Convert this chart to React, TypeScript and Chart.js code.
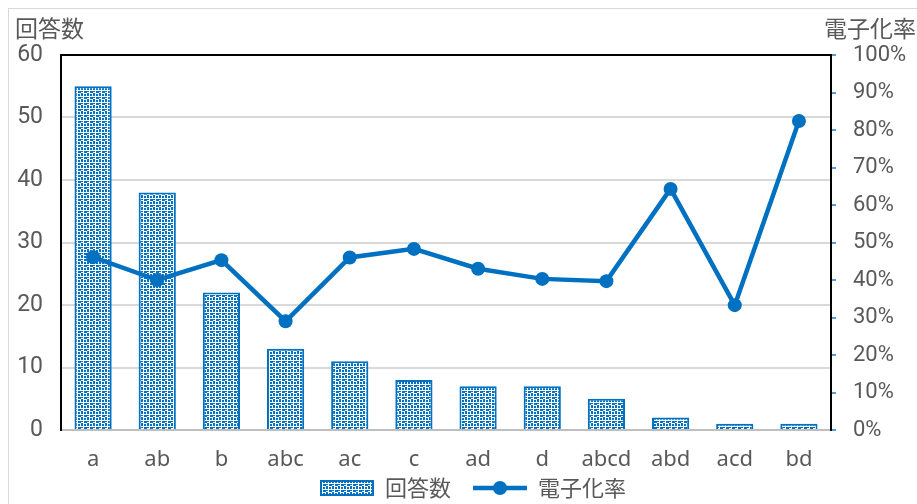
import React, { useEffect, useRef } from 'react';
import { Chart, registerables } from 'chart.js';

Chart.register(...registerables);

const categories = ['a', 'ab', 'b', 'abc', 'ac', 'c', 'ad', 'd', 'abcd', 'abd', 'acd', 'bd'];
const responseCounts = [55, 38, 22, 13, 11, 8, 7, 7, 5, 2, 1, 1];
const digitizationRates = [46.1, 40, 45.3, 29, 46, 48.3, 43, 40.3, 39.7, 64.3, 33.3, 82.4];
const leftTicks = [0, 10, 20, 30, 40, 50, 60];
const rightTicks = [0, 10, 20, 30, 40, 50, 60, 70, 80, 90, 100];
const seriesNames = ['回答数', '電子化率'];
const axisTitles = ['回答数', '電子化率'];

const BLUE = '#0070C0';
const TEXT = '#595959';
const FONT = "'Noto Sans CJK JP', 'Noto Sans', sans-serif";
const LATIN = "'Noto Sans', sans-serif";
const NUM = "Roboto, 'Liberation Sans', sans-serif";
const LEG_OFF = 20;

function makePatternTile(): HTMLCanvasElement {
  const c = document.createElement('canvas');
  c.width = 6;
  c.height = 6;
  const g = c.getContext('2d')!;
  g.fillStyle = '#ffffff';
  g.fillRect(0, 0, 6, 6);
  g.fillStyle = BLUE;
  g.fillRect(0, 0, 2, 3);
  g.fillRect(0, 4, 2, 1);
  g.fillRect(3, 1, 2, 2);
  g.fillRect(3, 4, 3, 2);
  return c;
}

function makeBarLegend(pattern: CanvasPattern): HTMLCanvasElement {
  const c = document.createElement('canvas');
  c.width = 54 + LEG_OFF;
  c.height = 16;
  const g = c.getContext('2d')!;
  g.translate(LEG_OFF, 0);
  g.fillStyle = pattern;
  g.fillRect(1, 1, 52, 14);
  g.strokeStyle = BLUE;
  g.lineWidth = 2;
  g.strokeRect(1, 1, 52, 14);
  return c;
}

function makeLineLegend(): HTMLCanvasElement {
  const c = document.createElement('canvas');
  c.width = 54 + LEG_OFF;
  c.height = 18;
  const g = c.getContext('2d')!;
  g.translate(LEG_OFF, 0);
  g.strokeStyle = BLUE;
  g.lineWidth = 4.5;
  g.beginPath();
  g.moveTo(0, 9);
  g.lineTo(54, 9);
  g.stroke();
  g.fillStyle = BLUE;
  g.beginPath();
  g.arc(27, 9, 7, 0, Math.PI * 2);
  g.fill();
  return c;
}

export default function App() {
  const ref = useRef<HTMLCanvasElement | null>(null);

  useEffect(() => {
    const canvas = ref.current!;
    const tile = makePatternTile();
    const pattern = canvas.getContext('2d')!.createPattern(tile, 'repeat')!;
    const barLegend = makeBarLegend(pattern);
    const lineLegend = makeLineLegend();

    const titlePlugin = {
      id: 'axisTitles',
      afterDraw(chart: any) {
        const ctx = chart.ctx;
        ctx.save();
        ctx.fillStyle = TEXT;
        ctx.font = `23px ${FONT}`;
        ctx.textBaseline = 'middle';
        ctx.textAlign = 'left';
        ctx.fillText(axisTitles[0], 6, 19);
        ctx.textAlign = 'right';
        ctx.fillText(axisTitles[1], chart.width - 1, 19);
        ctx.restore();
      },
    };

    const chart = new Chart(canvas, {
      type: 'bar',
      data: {
        labels: categories,
        datasets: [
          {
            type: 'bar',
            label: seriesNames[0],
            data: responseCounts,
            backgroundColor: pattern,
            borderColor: BLUE,
            borderWidth: 2,
            barPercentage: 0.58,
            categoryPercentage: 1,
            yAxisID: 'y',
            order: 2,
          },
          {
            type: 'line',
            label: seriesNames[1],
            data: digitizationRates,
            borderColor: BLUE,
            backgroundColor: BLUE,
            borderWidth: 4.5,
            pointRadius: 7,
            pointBackgroundColor: BLUE,
            pointBorderWidth: 0,
            yAxisID: 'y1',
            tension: 0,
            order: 1,
          } as any,
        ],
      },
      options: {
        animation: false,
        responsive: false,
        maintainAspectRatio: false,
        layout: { padding: { top: 46, left: 0, right: 0, bottom: 0 } },
        plugins: {
          tooltip: { enabled: false },
          legend: {
            position: 'bottom',
            labels: {
              usePointStyle: true,
              pointStyleWidth: 54 + LEG_OFF,
              boxHeight: 16,
              padding: 2,
              color: TEXT,
              font: { family: FONT, size: 22 },
              generateLabels: () => [
                {
                  text: seriesNames[0],
                  pointStyle: barLegend as any,
                  fillStyle: BLUE,
                  strokeStyle: BLUE,
                  lineWidth: 0,
                  hidden: false,
                  datasetIndex: 0,
                  fontColor: TEXT,
                },
                {
                  text: seriesNames[1],
                  pointStyle: lineLegend as any,
                  fillStyle: BLUE,
                  strokeStyle: BLUE,
                  lineWidth: 0,
                  hidden: false,
                  datasetIndex: 1,
                  fontColor: TEXT,
                },
              ],
            },
          },
        },
        scales: {
          x: {
            offset: true,
            afterFit: (axis: any) => {
              axis.height = 45;
            },
            grid: { display: true, drawOnChartArea: false, drawTicks: false },
            border: { display: true, color: '#bfbfbf', width: 2 },
            ticks: { color: TEXT, font: { family: LATIN, size: 22 }, padding: 17, maxRotation: 0 },
          },
          y: {
            position: 'left',
            min: 0,
            max: 60,
            afterBuildTicks: (axis: any) => {
              axis.ticks = leftTicks.map((v) => ({ value: v }));
            },
            afterFit: (axis: any) => {
              axis.width = 52;
            },
            grid: {
              drawTicks: false,
              color: (c: any) => (c.tick && c.tick.value === 60 ? '#000000' : '#d9d9d9'),
              lineWidth: 2,
            },
            border: { display: true, color: '#000000', width: 2 },
            ticks: { color: TEXT, font: { family: NUM, size: 23 }, padding: 18 },
          },
          y1: {
            position: 'right',
            min: 0,
            max: 100,
            afterBuildTicks: (axis: any) => {
              axis.ticks = rightTicks.map((v) => ({ value: v }));
            },
            afterFit: (axis: any) => {
              axis.width = 86;
            },
            grid: {
              drawOnChartArea: false,
              drawTicks: true,
              tickLength: 5,
              tickColor: '#5B9BD5',
              lineWidth: 2,
            },
            border: { display: true, color: '#000000', width: 2, dash: [4, 3] },
            ticks: {
              color: TEXT,
              font: { family: NUM, size: 22 },
              padding: 17,
              callback: (v: any) => `${v}%`,
            },
          },
        },
      },
      plugins: [titlePlugin],
    });

    return () => chart.destroy();
  }, []);

  return (
    <div
      style={{
        position: 'fixed',
        left: 8,
        top: 8,
        width: 908,
        height: 500,
        borderLeft: '1px solid #d9d9d9',
        borderTop: '1px solid #d9d9d9',
        background: '#ffffff',
      }}
    >
      <canvas ref={ref} width={908} height={500} style={{ display: 'block' }} />
    </div>
  );
}
